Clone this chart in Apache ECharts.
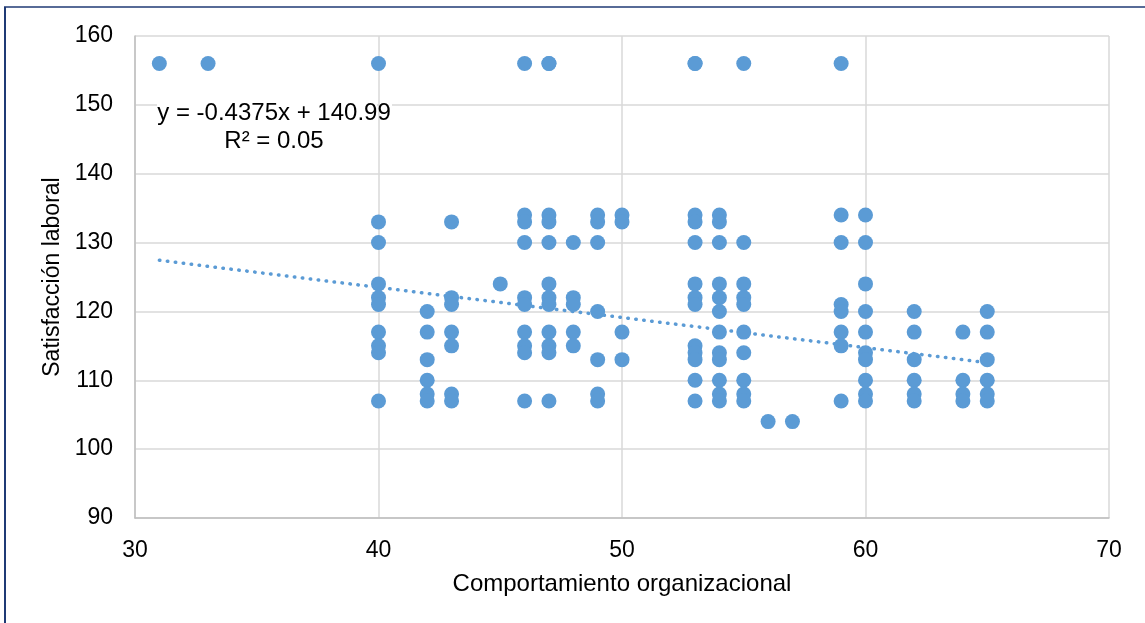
<!DOCTYPE html>
<html>
<head>
<meta charset="utf-8">
<script src="https://cdn.jsdelivr.net/npm/echarts@6/dist/echarts.min.js"></script>
<style>
html,body{margin:0;padding:0;background:#fff;}
#chart{width:1145px;height:623px;}
</style>
</head>
<body>
<div id="chart"></div>
<script>
// x = Comportamiento organizacional, y = Satisfacción laboral (grouped per x score)
const xScores = [31, 33, 40, 42, 43, 45, 46, 47, 48, 49, 50, 53, 54, 55, 56, 57, 59, 60, 62, 64, 65];
const yByScore = [
  [156],
  [156],
  [156, 133, 130, 124, 122, 121, 117, 115, 114, 107],
  [120, 117, 113, 110, 108, 107],
  [133, 122, 121, 117, 115, 108, 107],
  [124],
  [156, 134, 133, 130, 122, 121, 117, 115, 114, 107],
  [156, 156, 134, 133, 130, 124, 122, 121, 117, 115, 114, 107],
  [130, 122, 121, 117, 115],
  [134, 133, 130, 120, 113, 108, 107],
  [134, 133, 117, 113],
  [156, 156, 134, 133, 130, 124, 122, 121, 115, 114, 113, 110, 107],
  [134, 133, 130, 124, 122, 120, 117, 114, 113, 110, 108, 107],
  [156, 130, 124, 122, 121, 117, 114, 110, 108, 107],
  [104],
  [104],
  [156, 134, 130, 121, 120, 117, 115, 107],
  [134, 130, 124, 120, 117, 114, 113, 110, 108, 107],
  [120, 117, 113, 110, 108, 107],
  [117, 110, 108, 107],
  [120, 117, 113, 110, 108, 107]
];
const trendSlope = -0.4375;
const trendIntercept = 140.99;
const trendRange = [31, 65];
const equationText = 'y = -0.4375x + 140.99';
const r2Text = 'R² = 0.05';
const xTicks = [30, 40, 50, 60, 70];
const yTicks = [90, 100, 110, 120, 130, 140, 150, 160];

const points = [];
xScores.forEach((x, i) => yByScore[i].forEach(y => points.push([x, y])));
const trend = trendRange.map(x => [x, trendSlope * x + trendIntercept]);

const chart = echarts.init(document.getElementById('chart'), null, {renderer: 'canvas'});
const font = 'Liberation Sans, Arial, sans-serif';
chart.setOption({
  animation: false,
  backgroundColor: '#fff',
  grid: {left: 135, right: 36, top: 36, bottom: 105},
  xAxis: {
    type: 'value', min: xTicks[0], max: xTicks[xTicks.length - 1], interval: 10,
    name: 'Comportamiento organizacional', nameLocation: 'middle', nameGap: 54,
    nameTextStyle: {fontFamily: font, fontSize: 24, color: '#000'},
    axisLine: {show: true, lineStyle: {color: '#BFBFBF', width: 1.5}},
    axisTick: {show: false},
    axisLabel: {fontFamily: font, fontSize: 23, color: '#000', margin: 21},
    splitLine: {show: true, lineStyle: {color: '#D9D9D9', width: 1.5}}
  },
  yAxis: {
    type: 'value', min: yTicks[0], max: yTicks[yTicks.length - 1], interval: 10,
    name: 'Satisfacción laboral', nameLocation: 'middle', nameGap: 71, nameRotate: 90,
    nameTextStyle: {fontFamily: font, fontSize: 23, color: '#000'},
    axisLine: {show: true, lineStyle: {color: '#BFBFBF', width: 1.5}},
    axisTick: {show: false},
    axisLabel: {fontFamily: font, fontSize: 23, color: '#000', margin: 22},
    splitLine: {show: true, lineStyle: {color: '#D9D9D9', width: 1.5}}
  },
  graphic: [
    {type: 'line', shape: {x1: 5, y1: 7, x2: 5, y2: 623}, style: {stroke: '#1F3A75', lineWidth: 2}},
    {type: 'line', shape: {x1: 4, y1: 7, x2: 1145, y2: 7}, style: {stroke: '#1F3A75', lineWidth: 1.5}},
    {type: 'rect', z: 10, shape: {x: 157, y: 101, width: 220, height: 6}, style: {fill: '#fff'}},
    {type: 'rect', z: 10, shape: {x: 380, y: 101, width: 12, height: 6}, style: {fill: '#fff'}},
    {type: 'text', z: 11, x: 274, y: 113, style: {text: equationText, font: '24px ' + font, fill: '#000', textAlign: 'center', textVerticalAlign: 'middle'}},
    {type: 'text', z: 11, x: 274, y: 141, style: {text: r2Text, font: '24px ' + font, fill: '#000', textAlign: 'center', textVerticalAlign: 'middle'}}
  ],
  series: [
    {
      type: 'scatter', data: points, symbolSize: 15,
      itemStyle: {color: '#5B9BD5', opacity: 1}, z: 3
    },
    {
      type: 'line', data: trend, symbol: 'none', z: 2,
      lineStyle: {color: '#5B9BD5', width: 3.5, type: [0.5, 7.5], cap: 'round'}
    }
  ]
});
</script>
</body>
</html>
